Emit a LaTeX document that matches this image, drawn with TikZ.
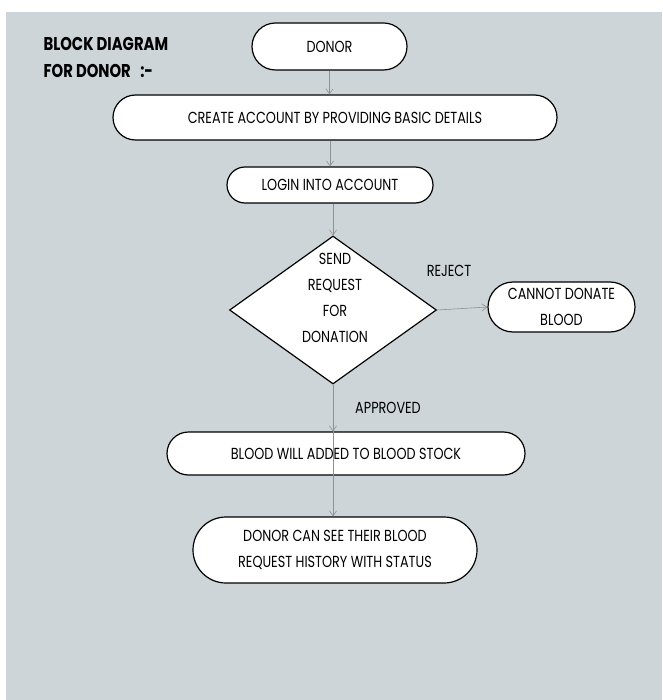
\documentclass[tikz,border=0pt]{standalone}
\usepackage{fontspec}
\setmainfont[FakeStretch=0.8]{Poppins}
\usetikzlibrary{shapes.misc,shapes.geometric,arrows.meta}
\definecolor{panel}{HTML}{CDD5D8}
\definecolor{wiregray}{HTML}{8E9293}
\tikzset{
  block/.style={rounded rectangle, draw=black, line width=1.2pt, fill=white,
    inner sep=0pt, align=center, font=\fontsize{16}{26}\selectfont},
  wire/.style={->, >={Straight Barb[length=5pt,width=7pt]}, draw=wiregray, line width=0.6pt},
  tag/.style={font=\fontsize{16}{26}\selectfont},
}
\begin{document}
\begin{tikzpicture}[x=1pt,y=-1pt]
\useasboundingbox (0,0) rectangle (662,700);
\fill[white] (0,0) rectangle (662,700);
\fill[panel] (6,12) rectangle (662,700);
% title
\node[anchor=west, align=left, font=\bfseries\fontsize{18.5}{27}\selectfont] (title) at (40,57) {BLOCK DIAGRAM\\FOR DONOR\ \ \ :-};
% flow
\node[block, minimum width=155pt, minimum height=47pt] (donor) at (329.5,46.5) {DONOR};
\node[block, minimum width=444pt, minimum height=45pt] (create) at (335,117.5) {CREATE ACCOUNT BY PROVIDING BASIC DETAILS};
\node[block, minimum width=206pt, minimum height=36pt] (login) at (330,185) {LOGIN INTO ACCOUNT};
\node[diamond, draw=black, line width=1.2pt, fill=white, minimum width=207pt, minimum height=148pt, inner sep=0pt] (request) at (333,310) {};
\node[tag, align=center] (requesttext) at (335,298) {SEND\\REQUEST\\FOR\\DONATION};
\node[block, minimum width=147pt, minimum height=50pt] (cannot) at (561.5,307) {CANNOT DONATE\\BLOOD};
\node[block, minimum width=358pt, minimum height=43pt] (stock) at (346,453.5) {BLOOD WILL ADDED TO BLOOD STOCK};
\node[block, minimum width=284pt, minimum height=66pt] (history) at (335,550) {DONOR CAN SEE THEIR BLOOD\\REQUEST HISTORY WITH STATUS};
\node[tag] (reject) at (449,271) {REJECT};
\node[tag] (approved) at (388,408) {APPROVED};
% connectors
\draw[wire] (donor.south) -- (donor.south |- create.north);
\draw[wire] (create.south -| login) -- (login.north);
\draw[wire] (login.south -| request) -- (request.north);
\draw[wire] (request.east) -- (cannot.west);
\draw[wire] (request.south) -- (request.south |- stock.north);
\draw[wire] (stock.north -| request) -- (history.north -| request);
\end{tikzpicture}
\end{document}
